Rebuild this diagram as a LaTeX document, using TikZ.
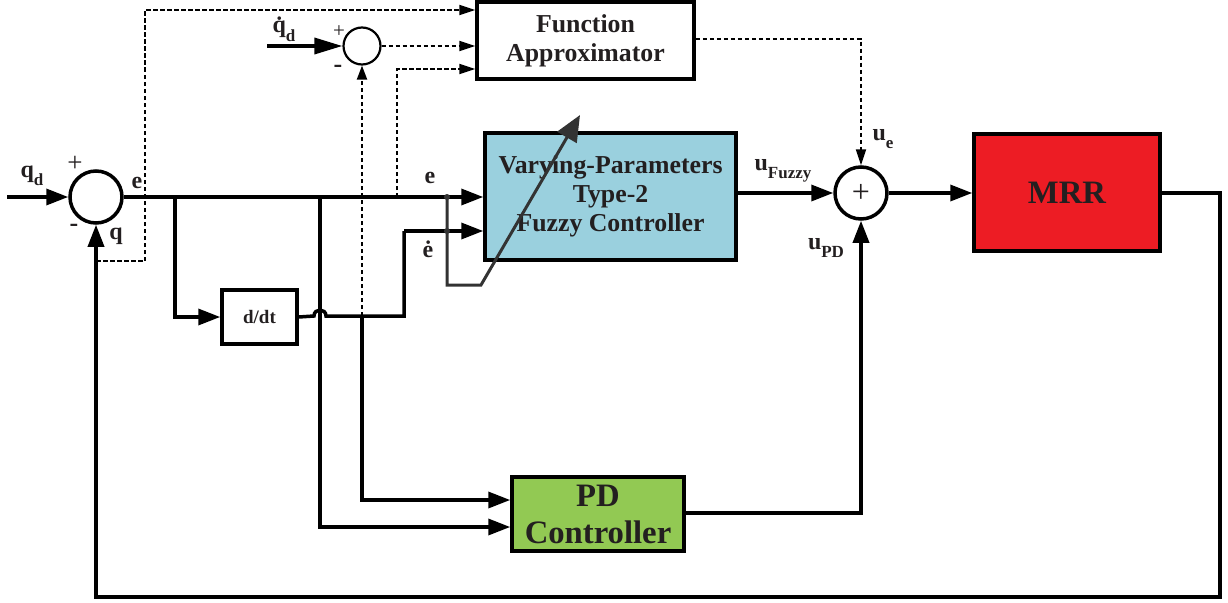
\documentclass[tikz,border=0pt]{standalone}
\usepackage{fontspec}
\setmainfont{Liberation Serif}
\usetikzlibrary{arrows.meta,calc}
\definecolor{txt}{HTML}{231F20}
\definecolor{fcblue}{RGB}{154,208,222}
\definecolor{pdgreen}{RGB}{146,201,83}
\definecolor{mrrred}{RGB}{237,28,36}
\definecolor{adjgray}{HTML}{333333}
\newcommand\lsub[1]{\raisebox{-0.35em}{\fontsize{17}{17}\selectfont #1}}
\tikzset{
  blk/.style={draw=black, line width=3.5pt, inner sep=0pt, text=txt, align=center, font=\bfseries\fontsize{25.8}{29}\selectfont},
  sumbig/.style={circle, draw=black, line width=3.5pt, minimum size=52pt, inner sep=0pt},
  sumsmall/.style={circle, draw=black, line width=2.2pt, minimum size=37pt, inner sep=0pt},
  sig/.style={line width=3.5pt, -{Triangle[length=22pt,width=16pt]}},
  wire/.style={line width=3.5pt},
  dsig/.style={line width=2pt, dash pattern=on 4.5pt off 2.5pt, -{Triangle[length=16pt,width=10pt]}},
  lbl/.style={text=txt, inner sep=0pt, font=\bfseries\fontsize{24}{24}\selectfont},
  sgn/.style={text=txt, inner sep=0pt, font=\fontsize{27}{27}\selectfont},
  bsgn/.style={text=txt, inner sep=0pt, font=\bfseries\fontsize{26}{26}\selectfont},
}
\begin{document}
\begin{tikzpicture}[x=1pt,y=-1pt]
\useasboundingbox (0,0) rectangle (1228,602);
% blocks
\node[blk, minimum width=217pt, minimum height=77pt] (FA) at (585.5,40.5) {Function\\Approximator};
\node[blk, fill=fcblue, minimum width=251pt, minimum height=127pt] (FC) at (610.5,196.5) {Varying-Parameters\\Type-2\\ Fuzzy Controller};
\node[blk, minimum width=75pt, minimum height=54pt, font=\bfseries\fontsize{19}{19}\selectfont] (DD) at (259.5,317) {d/dt};
\node[blk, fill=pdgreen, minimum width=172pt, minimum height=74pt, font=\bfseries\fontsize{32.7}{37}\selectfont] (PD) at (598,514) {PD\\Controller};
\node[blk, fill=mrrred, minimum width=186pt, minimum height=117pt, font=\bfseries\fontsize{32.7}{33}\selectfont] (MRR) at (1067,192.5) {MRR};
% summing junctions
\node[sumbig] (SA) at (96,197) {};
\node[sumsmall] (SB) at (362,46) {};
\node[sumbig, font=\fontsize{32}{32}\selectfont, text=txt] (SC) at (861,193) {+};
% coordinates
\coordinate (in) at (7,197);
\coordinate (qdin) at (267,46);
\coordinate (b1) at (175,197);
\coordinate (b2) at (320,197);
\coordinate (b3) at (397,197);
\coordinate (fb) at (96,261);
\coordinate (dj) at (362,316);
\coordinate (adj0) at (447,197);
\coordinate (adj1) at (447,231);
% main path
\draw[sig] (in) -- (SA.west);
\draw[sig] (SA.east) -- (SA.east -| FC.west);
\draw[sig] (b1) -- (b1 |- DD.west) -- (DD.west);
\draw[sig] (b2) -- (320,527) -- (PD.west |- 0,527);
\draw[wire] (DD.east) -- (314,316) .. controls (314,308) and (326,308) .. (326,316) -- (404,316) -- (404,231);
\draw[sig] (404,231) -- (FC.west |- 0,231);
\draw[sig] (dj) -- (362,500) -- (PD.west |- 0,500);
\draw[sig] (FC.east |- SC.west) -- (SC.west);
\draw[sig] (SC.east) -- (MRR.west |- SC.east);
\draw[sig] (MRR.east |- 0,193) -- (1220,193) -- (1220,597) -- (96,597) -- (SA.south);
\draw[sig] (PD.east |- 0,513) -- (SC.south |- 0,513) -- (SC.south);
\draw[line width=3.5pt, -{Triangle[length=28pt,width=16pt]}] (qdin) -- (SB.west);
% dashed paths
\draw[line width=2pt, dash pattern=on 4.5pt off 2.5pt, -{Triangle[length=14pt,width=10pt]}] (dj) -- (SB.south);
\draw[dsig] (SB.east) -- (FA.west |- SB.east);
\draw[dsig] (b3) -- (397,69) -- (FA.west |- 0,69);
\draw[dsig] (fb) -- (145,261) -- (145,10) -- (FA.west |- 0,10);
\draw[dsig] (FA.east |- 0,39) -- (861,39) -- (SC.north);
% adjustment arrow
\draw[adjgray, line width=3pt, -{Triangle[length=26pt,width=22pt]}] (adj0) -- (447,285) -- (481,285) -- (580,115);
\fill[adjgray] (adj0) circle (3pt);
\fill[adjgray] (adj1) circle (3pt);
% labels
\node[lbl] (lqd) at (32,176) {q\lsub{d}};
\node[sgn] (lpa) at (75,164) {+};
\node[bsgn] (lma) at (74,228) {-};
\node[lbl] (lq) at (116,236) {q};
\node[lbl] (le1) at (137,183) {e};
\node[lbl] (lqdd) at (284,29) {\.{q}\lsub{d}};
\node[sgn, font=\fontsize{21}{21}\selectfont] (lpb) at (339,32) {+};
\node[bsgn] (lmb) at (338,69) {-};
\node[lbl] (le2) at (430,178) {e};
\node[lbl] (led) at (428,249) {\.{e}};
\node[lbl] (luf) at (783,171) {u\lsub{Fuzzy}};
\node[lbl] (lue) at (883,139) {u\lsub{e}};
\node[lbl] (lupd) at (826,248) {u\lsub{PD}};
\end{tikzpicture}
\end{document}
